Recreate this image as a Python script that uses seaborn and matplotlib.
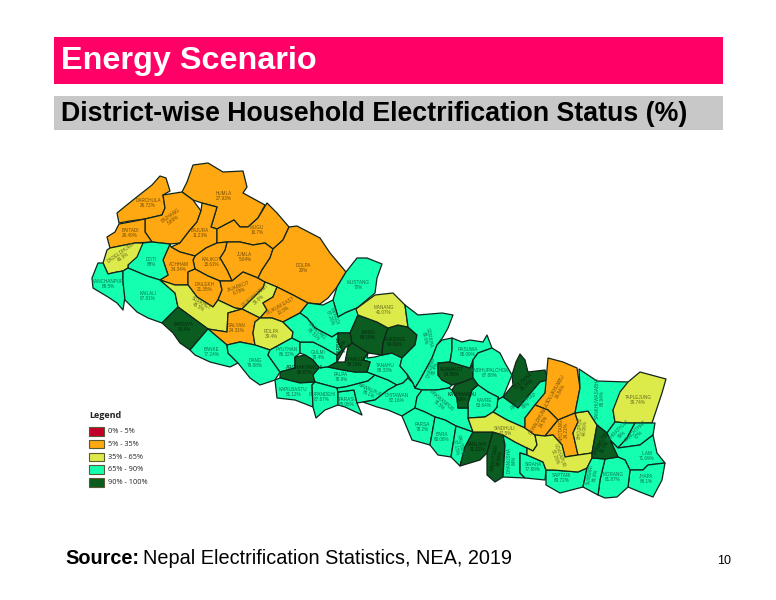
"""Nepal household electrification slide, district choropleth drawn from traced outlines."""
import matplotlib
matplotlib.use("Agg")
import matplotlib.pyplot as plt
import numpy as np
import seaborn as sns
from matplotlib.collections import PolyCollection
from matplotlib.patches import Rectangle

TITLE = "Energy Scenario"
SUBTITLE = "District-wise Household Electrification Status (%)"
SOURCE_HEAD = "Source:"
SOURCE_TEXT = "Nepal Electrification Statistics, NEA, 2019"
PAGE_NO = "10"

BIN_EDGES = [5, 35, 65, 90]
BIN_LABELS = ["0% - 5%", "5% - 35%", "35% - 65%", "65% - 90%", "90% - 100%"]
BIN_COLORS = ["#C00028", "#FFA812", "#DDEB4A", "#14FFB0", "#0A5C20"]

NAMES = [
    "HUMLA", "DARCHULA", "BAJHANG", "BAITADI", "BAJURA", "MUGU", "JUMLA", "KALIKOT",
    "ACHHAM", "DOTI", "DADELDHURA", "KANCHANPUR", "KAILALI", "DAILEKH", "JAJARKOT", "DOLPA",
    "MUSTANG", "RUKUM WEST", "RUKUM EAST", "SURKHET", "BARDIYA", "SALYAN", "ROLPA", "BANKE",
    "DANG", "PYUTHAN", "GULMI", "MYAGDI", "BAGLUNG", "ARGHAKHANCHI", "PALPA", "KAPILBASTU",
    "RUPANDEHI", "PARASI", "NAWALPUR", "TANAHU", "CHITAWAN", "KASKI", "LAMJUNG", "MANANG",
    "GORKHA", "SYANGJA", "PARBAT", "DHADING", "NUWAKOT", "RASUWA", "SINDHUPALCHOK", "DOLAKHA",
    "RAMECHHAP", "KAVRE", "MAKWANPUR", "PARSA", "BARA", "RAUTAHAT", "SARLAHI", "MAHOTTARI",
    "DHANUSHA", "SIRAHA", "SAPTARI", "SINDHULI", "SOLUKHUMBU", "OKHALDHUNGA", "KHOTANG", "BHOJPUR",
    "UDAYAPUR", "SANKHUWASABHA", "TAPLEJUNG", "TEHRATHUM", "PANCHTHAR", "ILAM", "JHAPA", "MORANG",
    "SUNSARI", "DHANKUTA", "KATHMANDU",
]

PCT = [
    27.93, 26.72, 5.89, 26.49, 11.23, 16.7, 5.04, 15.61,
    24.34, 88, 49.9, 89.5, 87.81, 21.35, 6.78, 20,
    70, 39.8, 10.5, 45.5, 94.4, 24.31, 39.4, 77.24,
    79.88, 86.32, 78.4, 87.26, 86.51, 90.87, 78.9, 81.12,
    87.67, 85.08, 86.1, 89.33, 82.16, 96.18, 94.91, 41.07,
    80.6, 98.19, 94.7, 85.4, 94.56, 85.09, 87.88, 93.34,
    85, 83.64, 78.5, 78.2, 80.08, 67.15, 91.12, 90.84,
    84, 77.89, 69.72, 47.5, 14.84, 24.5, 34.21, 44.06,
    52.26, 88.94, 39.74, 79, 67, 71.69, 86.1, 81.87,
    86.6, 91.7, 99,
]

LABEL_XY = [
    (224, 196), (148, 203), (172, 218), (130, 233), (200, 233), (257, 230), (245, 257), (211, 262),
    (179, 267), (151, 262), (122, 255), (108, 284), (148, 296), (205, 287), (239, 289), (303, 268),
    (358, 285), (257, 298), (282, 308), (200, 305), (184, 327), (237, 328), (271, 334), (212, 352),
    (255, 363), (287, 352), (318, 355), (332, 317), (315, 333), (305, 370), (341, 377), (293, 392),
    (322, 397), (347, 402), (369, 392), (385, 368), (397, 398), (368, 335), (395, 342), (384, 310),
    (427, 338), (355, 362), (342, 345), (433, 368), (452, 372), (468, 352), (490, 373), (525, 383),
    (525, 403), (484, 403), (440, 403), (422, 427), (442, 437), (458, 447), (477, 447), (497, 458),
    (512, 460), (533, 467), (562, 478), (505, 431), (558, 390), (542, 420), (564, 430), (583, 428),
    (557, 456), (600, 398), (638, 400), (620, 433), (637, 433), (647, 456), (646, 479), (613, 477),
    (593, 475), (603, 445), (462, 397),
]

LABEL_ROT = [
    0, 0, 35, 0, 0, 0, 0, 0,
    0, 0, 35, 0, 0, 0, 20, 0,
    0, 40, 30, -30, 0, 0, 0, 0,
    0, 0, 0, -70, -45, 0, 0, 0,
    0, 0, -25, 0, 0, 0, 0, 0,
    -80, 0, 90, 75, 0, 0, 0, 40,
    30, 0, -40, 0, 0, -80, 0, 80,
    90, 0, 0, 0, 60, 60, 90, 85,
    -70, 90, 0, 45, 45, 0, 0, 0,
    80, 60, 0,
]

OUTLINES = [
    [(182, 192), (187, 182), (193, 165), (208, 163), (223, 172), (243, 171), (247, 187), (243, 193), (265, 205), (258, 218), (248, 227), (240, 227), (234, 220), (217, 229), (211, 227), (217, 207), (202, 203), (193, 200)],
    [(117, 213), (133, 200), (152, 185), (160, 176), (166, 178), (170, 191), (163, 195), (165, 208), (162, 215), (145, 219), (130, 221), (119, 223)],
    [(163, 195), (182, 192), (193, 200), (201, 211), (197, 222), (190, 230), (180, 243), (170, 244), (152, 242), (145, 232), (145, 219), (162, 215), (165, 208)],
    [(119, 224), (130, 222), (145, 219), (145, 232), (152, 242), (135, 243), (110, 248), (107, 237), (115, 232)],
    [(202, 203), (217, 207), (211, 227), (217, 229), (217, 243), (206, 248), (195, 256), (180, 252), (171, 247), (180, 243), (190, 230), (197, 222), (201, 211)],
    [(217, 229), (234, 220), (240, 227), (248, 227), (258, 218), (267, 203), (277, 213), (289, 227), (283, 240), (273, 249), (265, 243), (253, 245), (240, 242), (227, 242), (217, 243)],
    [(227, 242), (240, 242), (253, 245), (265, 243), (273, 249), (270, 258), (262, 270), (258, 278), (243, 272), (232, 281), (227, 270), (220, 258), (225, 250)],
    [(195, 256), (206, 248), (217, 243), (227, 242), (225, 250), (220, 258), (227, 270), (232, 281), (220, 281), (208, 276), (195, 269), (193, 260)],
    [(171, 247), (180, 252), (195, 256), (193, 260), (195, 269), (188, 272), (188, 285), (175, 285), (160, 280), (168, 275), (163, 260), (170, 244)],
    [(128, 265), (143, 243), (152, 242), (170, 244), (163, 260), (168, 275), (160, 280), (147, 276), (128, 268)],
    [(103, 263), (107, 250), (110, 248), (135, 243), (143, 243), (137, 257), (128, 265), (128, 268), (123, 271), (117, 272), (108, 274)],
    [(98, 263), (103, 263), (108, 274), (117, 272), (123, 271), (123, 282), (125, 297), (123, 310), (117, 303), (108, 297), (93, 288), (92, 278)],
    [(123, 271), (128, 268), (147, 276), (160, 280), (175, 293), (178, 307), (162, 323), (148, 318), (137, 312), (125, 300), (123, 282)],
    [(188, 272), (195, 269), (208, 276), (220, 281), (222, 290), (218, 300), (213, 307), (197, 297), (188, 285)],
    [(220, 281), (232, 281), (243, 272), (258, 278), (265, 282), (263, 288), (253, 298), (242, 309), (235, 308), (218, 300), (222, 290)],
    [(289, 227), (297, 226), (320, 238), (330, 253), (346, 272), (337, 287), (328, 298), (320, 304), (308, 303), (293, 295), (277, 287), (265, 282), (258, 278), (262, 270), (270, 258), (273, 249), (283, 240)],
    [(346, 272), (357, 258), (367, 258), (382, 264), (377, 278), (375, 293), (357, 308), (347, 312), (338, 317), (333, 300), (337, 287)],
    [(265, 282), (277, 287), (273, 297), (263, 303), (267, 310), (260, 318), (242, 309), (253, 298), (263, 288)],
    [(277, 287), (293, 295), (308, 303), (300, 313), (283, 322), (272, 318), (260, 318), (267, 310), (263, 303), (273, 297)],
    [(160, 280), (175, 285), (188, 285), (197, 297), (213, 307), (218, 300), (235, 308), (242, 309), (228, 313), (227, 332), (208, 329), (178, 307), (175, 293)],
    [(178, 307), (208, 329), (190, 350), (180, 343), (173, 333), (162, 323)],
    [(228, 313), (242, 309), (260, 318), (255, 322), (253, 333), (255, 345), (240, 342), (227, 345), (208, 329), (227, 332)],
    [(255, 322), (260, 318), (272, 318), (283, 322), (293, 332), (292, 338), (270, 350), (255, 345), (253, 333)],
    [(190, 350), (208, 329), (227, 345), (228, 353), (238, 363), (230, 367), (210, 362), (195, 355)],
    [(228, 353), (227, 345), (240, 342), (255, 345), (270, 350), (268, 355), (280, 372), (275, 380), (260, 385), (250, 378), (238, 363)],
    [(270, 350), (292, 338), (300, 342), (300, 353), (295, 357), (295, 368), (280, 372), (268, 355)],
    [(300, 342), (313, 342), (323, 347), (337, 355), (337, 362), (328, 367), (319, 368), (313, 360), (305, 355), (300, 353)],
    [(300, 313), (308, 303), (323, 305), (333, 300), (338, 317), (345, 313), (357, 308), (358, 315), (350, 333), (338, 333), (332, 337), (315, 328), (307, 318)],
    [(283, 322), (300, 313), (307, 318), (315, 328), (332, 337), (338, 333), (338, 342), (342, 350), (337, 355), (323, 347), (313, 342), (300, 342), (292, 338), (293, 332)],
    [(280, 372), (295, 368), (295, 357), (305, 355), (313, 360), (319, 368), (313, 375), (315, 382), (300, 383), (280, 378)],
    [(319, 368), (328, 367), (343, 370), (355, 372), (367, 372), (375, 375), (368, 381), (345, 387), (337, 388), (315, 382), (313, 375)],
    [(275, 380), (280, 378), (300, 383), (315, 382), (312, 385), (313, 407), (295, 400), (277, 398)],
    [(312, 385), (315, 382), (337, 388), (338, 392), (338, 405), (325, 410), (316, 418), (313, 407)],
    [(338, 392), (354, 390), (357, 403), (362, 415), (345, 407), (338, 405)],
    [(337, 388), (345, 387), (368, 381), (375, 375), (388, 380), (397, 385), (388, 390), (375, 400), (363, 402), (357, 403), (354, 390), (338, 392)],
    [(367, 358), (375, 357), (382, 355), (392, 353), (402, 358), (400, 366), (407, 374), (408, 378), (403, 383), (397, 385), (388, 380), (375, 375), (367, 372), (370, 362), (363, 360), (368, 353)],
    [(375, 400), (388, 390), (397, 385), (403, 383), (408, 378), (413, 383), (415, 388), (422, 390), (417, 397), (415, 408), (402, 416), (388, 410), (377, 407), (363, 402)],
    [(358, 315), (377, 322), (388, 328), (383, 343), (382, 355), (368, 353), (360, 348), (352, 343), (350, 333)],
    [(388, 328), (398, 325), (408, 327), (417, 335), (415, 345), (402, 358), (392, 353), (382, 355), (383, 343)],
    [(356, 309), (375, 295), (393, 293), (405, 305), (408, 327), (398, 325), (388, 328), (377, 322), (358, 315)],
    [(405, 305), (418, 315), (442, 313), (453, 315), (448, 328), (443, 337), (437, 345), (432, 358), (420, 380), (415, 388), (413, 383), (407, 374), (400, 366), (402, 358), (415, 345), (417, 335), (408, 327)],
    [(328, 367), (337, 362), (345, 362), (348, 347), (352, 343), (360, 348), (368, 353), (363, 360), (370, 362), (367, 372), (355, 372), (343, 370)],
    [(338, 333), (350, 333), (352, 343), (345, 348), (337, 362), (337, 355), (342, 350), (338, 342)],
    [(442, 340), (452, 338), (452, 350), (450, 362), (438, 363), (438, 375), (442, 380), (452, 385), (449, 388), (437, 390), (422, 390), (415, 388), (420, 380), (432, 358), (437, 345)],
    [(438, 363), (450, 362), (470, 368), (473, 360), (473, 378), (463, 382), (452, 385), (442, 380), (438, 375)],
    [(452, 338), (462, 342), (470, 340), (483, 342), (487, 335), (492, 348), (478, 353), (473, 360), (470, 368), (450, 362), (452, 350)],
    [(473, 360), (478, 353), (492, 348), (500, 353), (505, 363), (512, 375), (503, 397), (497, 400), (498, 397), (488, 392), (478, 385), (473, 378)],
    [(520, 354), (525, 360), (528, 372), (545, 370), (548, 380), (540, 382), (518, 408), (503, 397), (513, 385), (512, 375), (516, 362)],
    [(497, 400), (503, 397), (518, 408), (540, 382), (548, 380), (545, 393), (535, 405), (525, 418), (525, 428), (507, 420), (493, 412), (497, 407), (498, 397)],
    [(478, 385), (488, 392), (498, 397), (497, 407), (493, 412), (485, 417), (468, 418), (468, 403), (472, 390)],
    [(422, 390), (437, 390), (449, 388), (452, 390), (457, 398), (458, 408), (468, 408), (468, 418), (473, 432), (456, 426), (445, 420), (435, 417), (425, 412), (415, 408), (417, 397)],
    [(402, 416), (415, 408), (425, 412), (435, 417), (430, 445), (412, 440)],
    [(435, 417), (445, 420), (456, 426), (451, 457), (438, 455), (430, 445)],
    [(456, 426), (473, 432), (465, 447), (460, 466), (451, 457)],
    [(473, 432), (480, 432), (493, 432), (487, 453), (480, 460), (460, 466), (465, 447)],
    [(493, 432), (503, 435), (505, 445), (503, 477), (495, 482), (487, 475), (487, 453)],
    [(503, 435), (515, 442), (527, 448), (527, 455), (520, 453), (520, 473), (525, 478), (503, 477), (505, 445)],
    [(520, 453), (527, 455), (543, 462), (546, 470), (545, 480), (525, 478), (520, 473)],
    [(546, 470), (553, 470), (578, 472), (587, 468), (583, 487), (560, 493), (546, 485)],
    [(468, 418), (485, 417), (493, 412), (507, 420), (525, 428), (535, 435), (537, 445), (533, 451), (527, 448), (515, 442), (503, 435), (493, 432), (480, 432), (473, 432)],
    [(548, 358), (563, 362), (577, 368), (580, 388), (575, 413), (558, 420), (548, 410), (535, 405), (545, 393)],
    [(535, 405), (548, 410), (558, 420), (545, 436), (535, 435), (525, 428), (525, 418)],
    [(545, 436), (558, 420), (575, 413), (578, 422), (573, 433), (578, 455), (565, 457), (562, 445), (553, 435)],
    [(575, 413), (588, 411), (597, 425), (592, 453), (578, 455), (573, 433), (578, 422)],
    [(535, 435), (545, 436), (553, 435), (562, 445), (565, 457), (578, 455), (592, 453), (592, 458), (587, 468), (578, 472), (553, 470), (546, 470), (543, 462), (527, 455), (527, 448), (533, 451), (537, 445)],
    [(579, 369), (597, 381), (628, 382), (625, 392), (613, 410), (615, 422), (607, 433), (597, 425), (588, 411), (575, 413), (580, 388)],
    [(628, 382), (640, 372), (666, 379), (662, 393), (657, 408), (652, 423), (635, 423), (627, 423), (615, 422), (613, 410), (620, 392)],
    [(615, 422), (627, 423), (635, 423), (627, 438), (618, 448), (610, 440), (607, 433)],
    [(635, 423), (655, 423), (653, 435), (640, 445), (618, 448), (627, 438)],
    [(618, 448), (640, 445), (653, 435), (657, 453), (665, 463), (648, 465), (643, 470), (630, 470), (625, 460), (618, 457), (610, 440)],
    [(630, 470), (643, 470), (648, 465), (665, 463), (662, 480), (653, 497), (640, 492), (628, 487)],
    [(605, 459), (618, 457), (625, 460), (630, 470), (628, 487), (617, 497), (605, 498), (598, 495), (600, 480)],
    [(587, 468), (592, 458), (605, 459), (600, 480), (598, 495), (583, 487)],
    [(597, 425), (607, 433), (610, 440), (618, 457), (605, 459), (592, 458), (592, 453)],
    [(452, 390), (455, 385), (463, 382), (473, 378), (478, 385), (472, 390), (468, 403), (468, 408), (458, 408), (457, 398)],
]


def main():
    sns.set_theme(style="white")
    plt.rcParams["font.family"] = ["Liberation Sans", "DejaVu Sans"]
    palette = sns.color_palette(BIN_COLORS)

    fig = plt.figure(figsize=(7.76, 6), dpi=100)
    ax = fig.add_axes([0, 0, 1, 1])
    ax.set_xlim(0, 776)
    ax.set_ylim(600, 0)
    ax.axis("off")

    # header bars
    ax.add_patch(Rectangle((54, 37), 669, 47, fc="#FF0066", ec="none"))
    ax.add_patch(Rectangle((54, 96), 669, 34, fc="#C8C8C8", ec="none"))
    ax.text(61, 61, TITLE, color="white", fontsize=23.3, fontweight="bold", va="center")
    ax.text(61, 114, SUBTITLE, color="black", fontsize=19.3, fontweight="bold", va="center")

    # map
    bins = np.digitize(PCT, BIN_EDGES)
    colors = [palette[b] for b in bins]
    ax.add_collection(PolyCollection(OUTLINES, facecolors=colors, edgecolors="#10251a",
                                     linewidths=0.9, joinstyle="round"))
    for name, pct, (x, y), rot, col in zip(NAMES, PCT, LABEL_XY, LABEL_ROT, colors):
        ax.text(x, y, f"{name}\n{pct:g}%", fontsize=3.3, color=tuple(c * 0.45 for c in col),
                ha="center", va="center", rotation=rot, linespacing=1.0)

    # legend
    ax.text(89, 415, "Legend", fontsize=6.5, fontweight="bold", va="center", color="#222222",
            family=["Open Sans", "DejaVu Sans"])
    for i, (lab, col) in enumerate(zip(BIN_LABELS, palette)):
        top = 427 + i * 12.8
        ax.add_patch(Rectangle((89, top), 15, 8.5, fc=col, ec="#5a5a30", lw=0.8))
        ax.text(108, top + 4.5, lab, fontsize=5.3, va="center", color="#222222",
                family=["Open Sans", "DejaVu Sans"])

    # footer
    head = ax.text(65, 558, SOURCE_HEAD, fontsize=14.3, fontweight="bold", va="center", color="black")
    fig.canvas.draw()
    head_end = ax.transData.inverted().transform(head.get_window_extent().get_points())[1][0]
    ax.text(head_end + 4, 558, SOURCE_TEXT, fontsize=14.3, va="center", color="black")
    ax.text(724, 561, PAGE_NO, fontsize=9, ha="center", va="center", color="black")

    fig.savefig("out.png", dpi=100)
    plt.close(fig)


if __name__ == "__main__":
    main()
